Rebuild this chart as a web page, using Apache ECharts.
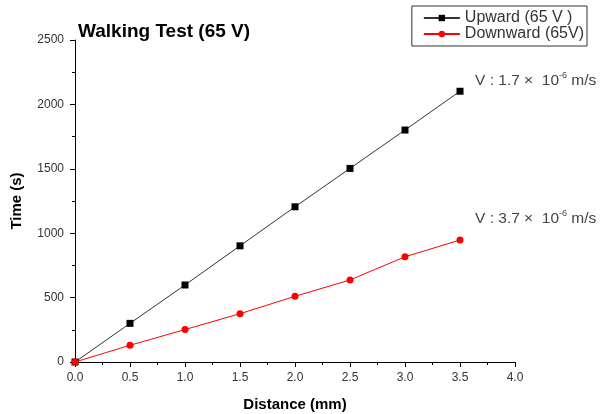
<!DOCTYPE html>
<html><head><meta charset="utf-8">
<script src="https://cdn.jsdelivr.net/npm/echarts@6/dist/echarts.min.js"></script>
<style>html,body{margin:0;padding:0;background:#fff}#c{width:600px;height:414px}</style>
</head><body><div id="c"></div>
<script>
var distance = [0, 0.5, 1.0, 1.5, 2.0, 2.5, 3.0, 3.5];
var upward = [0, 300, 598, 902, 1205, 1503, 1801, 2102];
var downward = [0, 130, 252, 375, 510, 637, 817, 947];
var upName = 'Upward (65 V )';
var downName = 'Downward (65V)';

var chart = echarts.init(document.getElementById('c'));
var font = 'Liberation Sans, Arial, sans-serif';
function pairs(xs, ys){ return xs.map(function(x,i){return [x, ys[i]];}); }
var rich = {a: {fontSize: 15.5, fontFamily: font, fill: '#444', verticalAlign: 'bottom'},
            s: {fontSize: 9, fontFamily: font, fill: '#444', verticalAlign: 'top', padding: [0,0,9,0]}};
chart.setOption({
  animation: false,
  textStyle: {fontFamily: font},
  title: {text: 'Walking Test (65 V)', left: 73, top: 17,
    textStyle: {fontSize: 19, fontWeight: 'bold', color: '#000', fontFamily: font}},
  legend: {
    right: 13, top: 6, orient: 'vertical', itemGap: 0,
    itemWidth: 36, itemHeight: 8,
    padding: [4, 3, 4, 11],
    borderColor: '#333', borderWidth: 1,
    textStyle: {fontSize: 16, lineHeight: 16, color: '#333', fontFamily: font},
    data: [upName, downName]
  },
  grid: {left: 75, right: 85, top: 40, bottom: 52, containLabel: false, outerBoundsMode: 'none'},
  xAxis: {
    type: 'value', min: 0, max: 4, interval: 0.5,
    name: 'Distance (mm)', nameLocation: 'middle', nameGap: 35,
    nameTextStyle: {fontSize: 15, fontWeight: 'bold', color: '#000'},
    axisLine: {show: true, lineStyle: {color: '#000', width: 1}},
    axisTick: {show: true, inside: false, length: 5, lineStyle: {color: '#000'}},
    minorTick: {show: true, splitNumber: 2, length: 3, lineStyle: {color: '#000'}},
    splitLine: {show: false},
    axisLabel: {fontSize: 12, color: '#333', margin: 10,
      formatter: function(v){return v.toFixed(1);}}
  },
  yAxis: {
    type: 'value', min: 0, max: 2500, interval: 500,
    name: 'Time (s)', nameLocation: 'middle', nameGap: 51,
    nameTextStyle: {fontSize: 15, fontWeight: 'bold', color: '#000'},
    axisLine: {show: true, lineStyle: {color: '#000', width: 1}},
    axisTick: {show: true, inside: false, length: 5, lineStyle: {color: '#000'}},
    minorTick: {show: true, splitNumber: 2, length: 3, lineStyle: {color: '#000'}},
    splitLine: {show: false},
    axisLabel: {fontSize: 12, color: '#333', margin: 11,
      formatter: function(v){return String(v);}}
  },
  series: [
    {name: upName, type: 'line', data: pairs(distance, upward),
     symbol: 'rect', symbolSize: 7, showAllSymbol: true,
     itemStyle: {color: '#000'}, lineStyle: {color: '#333', width: 1}},
    {name: downName, type: 'line', data: pairs(distance, downward),
     symbol: 'circle', symbolSize: 7, showAllSymbol: true,
     itemStyle: {color: '#ff0000'}, lineStyle: {color: '#ff0000', width: 1}}
  ],
  graphic: [
    {type: 'text', left: 475, top: 71,
     style: {text: '{a|V : 1.7 ×  10}{s|-6}{a| m/s}', rich: rich}},
    {type: 'text', left: 475, top: 209,
     style: {text: '{a|V : 3.7 ×  10}{s|-6}{a| m/s}', rich: rich}}
  ]
});
</script></body></html>
